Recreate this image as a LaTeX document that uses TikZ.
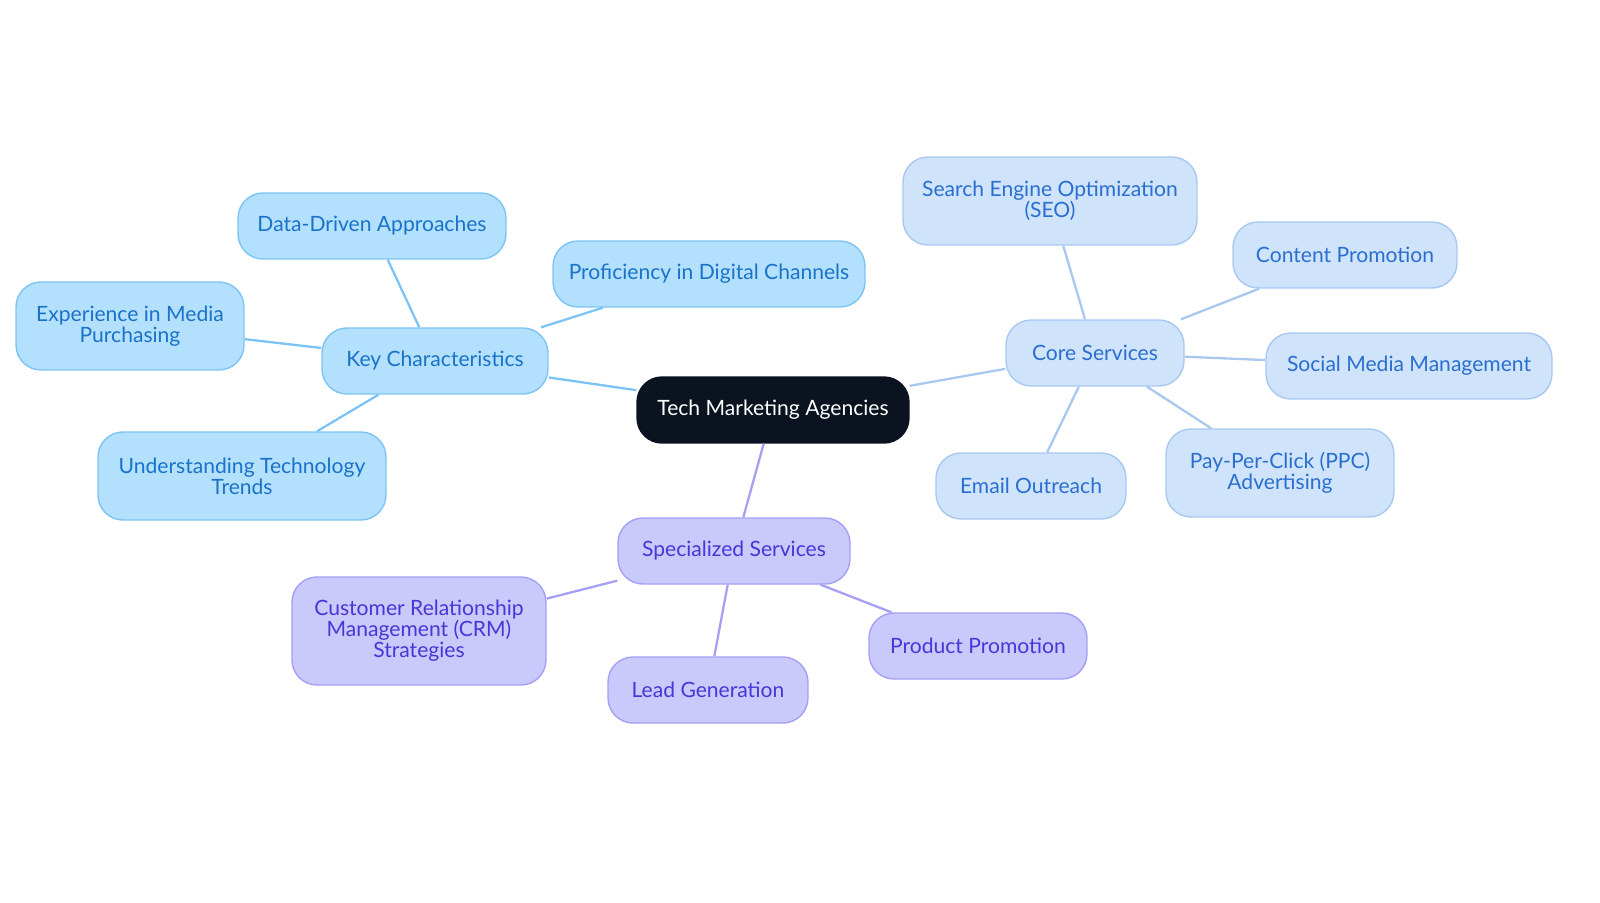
\documentclass[tikz,border=0pt]{standalone}
\usepackage{fontspec}
\setmainfont{Lato}
\usepackage{tikz}
\usetikzlibrary{positioning}
\definecolor{rootfill}{HTML}{0B1320}
\definecolor{kcfill}{HTML}{B3E0FD}
\definecolor{kcdraw}{HTML}{7CC4F5}
\definecolor{kctext}{HTML}{1A73C8}
\definecolor{csfill}{HTML}{CFE3FB}
\definecolor{csdraw}{HTML}{A8C8F0}
\definecolor{cstext}{HTML}{2A6FD0}
\definecolor{ssfill}{HTML}{C9C9FC}
\definecolor{ssdraw}{HTML}{A5A0F5}
\definecolor{sstext}{HTML}{4B35D6}
\tikzset{
    box/.style = {rectangle, rounded corners=0.5cm, align=center, thick, inner sep=2pt, font=\fontsize{12}{12}\selectfont},
    rootnode/.style = {box, fill=rootfill, draw=rootfill, text=white},
    kcnode/.style = {box, fill=kcfill, draw=kcdraw, text=kctext},
    csnode/.style = {box, fill=csfill, draw=csdraw, text=cstext},
    ssnode/.style = {box, fill=ssfill, draw=ssdraw, text=sstext},
}
\begin{document}
\begin{tikzpicture}[x=0.02cm, y=-0.02cm]
\useasboundingbox (0,0) rectangle (1600,903);
\tikzset{
    edgek/.style = {-, line width=1.3pt, kcdraw},
    edgec/.style = {-, line width=1.3pt, csdraw},
    edges/.style = {-, line width=1.3pt, ssdraw}
}
\node[rootnode, minimum width=5.44cm, minimum height=1.32cm] at (773,410) (root) {Tech Marketing Agencies};
% key characteristics
\node[kcnode, minimum width=4.52cm, minimum height=1.32cm] at (435,361) (kc) {Key Characteristics};
\node[kcnode, minimum width=5.36cm, minimum height=1.32cm] at (372,226) (data) {Data-Driven Approaches};
\node[kcnode, minimum width=6.24cm, minimum height=1.32cm] at (709,274) (prof) {Proficiency in Digital Channels};
\node[kcnode, minimum width=4.56cm, minimum height=1.76cm] at (130,326) (media) {Experience in Media\\Purchasing};
\node[kcnode, minimum width=5.76cm, minimum height=1.76cm] at (242,476) (trend) {Understanding Technology\\Trends};
% core services
\node[csnode, minimum width=3.56cm, minimum height=1.32cm] at (1095,353) (cs) {Core Services};
\node[csnode, minimum width=5.88cm, minimum height=1.76cm] at (1050,201) (seo) {Search Engine Optimization\\(SEO)};
\node[csnode, minimum width=4.48cm, minimum height=1.32cm] at (1345,255) (content) {Content Promotion};
\node[csnode, minimum width=5.72cm, minimum height=1.32cm] at (1409,366) (social) {Social Media Management};
\node[csnode, minimum width=4.56cm, minimum height=1.76cm] at (1280,473) (ppc) {Pay-Per-Click (PPC)\\Advertising};
\node[csnode, minimum width=3.80cm, minimum height=1.32cm] at (1031,486) (email) {Email Outreach};
% specialized services
\node[ssnode, minimum width=4.64cm, minimum height=1.32cm] at (734,551) (ss) {Specialized Services};
\node[ssnode, minimum width=5.08cm, minimum height=2.16cm] at (419,631) (crm) {Customer Relationship\\Management (CRM)\\Strategies};
\node[ssnode, minimum width=4.00cm, minimum height=1.32cm] at (708,690) (lead) {Lead Generation};
\node[ssnode, minimum width=4.36cm, minimum height=1.32cm] at (978,646) (prod) {Product Promotion};
\draw[edgek] (root) -- (kc);
\draw[edgek] (kc) -- (data);
\draw[edgek] (kc) -- (prof);
\draw[edgek] (kc) -- (media);
\draw[edgek] (kc) -- (trend);
\draw[edgec] (root) -- (cs);
\draw[edgec] (cs) -- (seo);
\draw[edgec] (cs) -- (content);
\draw[edgec] (cs) -- (social);
\draw[edgec] (cs) -- (ppc);
\draw[edgec] (cs) -- (email);
\draw[edges] (root) -- (ss);
\draw[edges] (ss) -- (crm);
\draw[edges] (ss) -- (lead);
\draw[edges] (ss) -- (prod);
\end{tikzpicture}
\end{document}
